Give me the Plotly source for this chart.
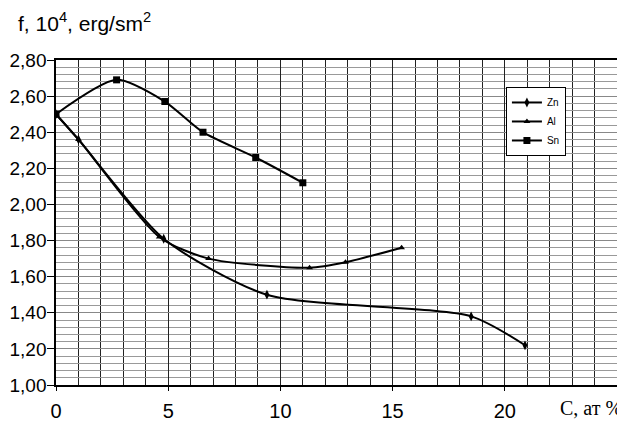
import plotly.graph_objects as go

# Data
zn_x = [0, 1.0, 4.8, 9.4, 18.5, 20.9]
zn_y = [2.50, 2.36, 1.81, 1.50, 1.38, 1.22]

al_x = [0, 1.0, 4.6, 6.8, 11.3, 12.9, 15.4]
al_y = [2.50, 2.36, 1.82, 1.70, 1.65, 1.68, 1.76]

sn_x = [0, 2.7, 4.85, 6.55, 8.9, 11.0]
sn_y = [2.50, 2.69, 2.57, 2.40, 2.26, 2.12]

x_ticks = [0, 5, 10, 15, 20]
y_ticks = [1.0, 1.2, 1.4, 1.6, 1.8, 2.0, 2.2, 2.4, 2.6, 2.8]
y_labels = ["1,00", "1,20", "1,40", "1,60", "1,80", "2,00", "2,20", "2,40", "2,60", "2,80"]

series = [
    ("Zn", zn_x, zn_y, "diamond-tall", 7),
    ("Al", al_x, al_y, "triangle-up", 6),
    ("Sn", sn_x, sn_y, "square", 7),
]

fig = go.Figure()
for name, xs, ys, sym, sz in series:
    fig.add_trace(go.Scatter(
        x=xs, y=ys, name=name, mode="lines+markers",
        line=dict(color="black", width=2, shape="spline", smoothing=0.7),
        marker=dict(symbol=sym, size=sz, color="black"),
    ))

font_sans = "Liberation Sans, Arial, sans-serif"

fig.update_layout(
    width=617, height=413,
    margin=dict(l=48, r=8, t=52, b=36, autoexpand=False),
    paper_bgcolor="white", plot_bgcolor="white",
    font=dict(family=font_sans, color="black", size=20),
    showlegend=True,
    legend=dict(
        x=0.802, y=0.917, xanchor="left", yanchor="top",
        bgcolor="white", bordercolor="black", borderwidth=1,
        font=dict(size=10, family=font_sans), itemwidth=30,
        tracegroupgap=0,
    ),
    xaxis=dict(
        range=[0, 25], tickvals=x_ticks, ticktext=[str(v) for v in x_ticks],
        showgrid=True, gridcolor="#222222", gridwidth=1,
        minor=dict(dtick=1, showgrid=True, gridcolor="#222222", gridwidth=1),
        showline=True, linecolor="black", linewidth=1.5, mirror=True,
        ticks="outside", ticklen=4, tickcolor="black",
        tickfont=dict(size=20, family=font_sans),
        ticklabelstandoff=3, automargin=False,
        zeroline=False,
    ),
    yaxis=dict(
        range=[1.0, 2.8], tickvals=y_ticks, ticktext=y_labels,
        showgrid=True, gridcolor="#888888", gridwidth=1,
        minor=dict(dtick=0.04, tick0=1.0, showgrid=True, gridcolor="#999999", gridwidth=1),
        showline=True, linecolor="black", linewidth=1.5, mirror=True,
        ticks="outside", ticklen=7, tickcolor="black",
        tickfont=dict(size=19, family=font_sans),
        ticklabelstandoff=-3,
        automargin=False,
        zeroline=False,
    ),
    annotations=[
        dict(text="f, 10<sup>4</sup>, erg/sm<sup>2</sup>", xref="paper", yref="paper",
             x=-0.071, y=1.117, xanchor="left", yanchor="middle", showarrow=False,
             font=dict(size=21, family=font_sans)),
        dict(text="C, ат %", xref="paper", yref="paper",
             x=1.0125, y=-0.071, xanchor="right", yanchor="middle", showarrow=False,
             font=dict(size=20, family="Liberation Serif, Times New Roman, serif")),
    ],
)

fig.write_html("out.html")
